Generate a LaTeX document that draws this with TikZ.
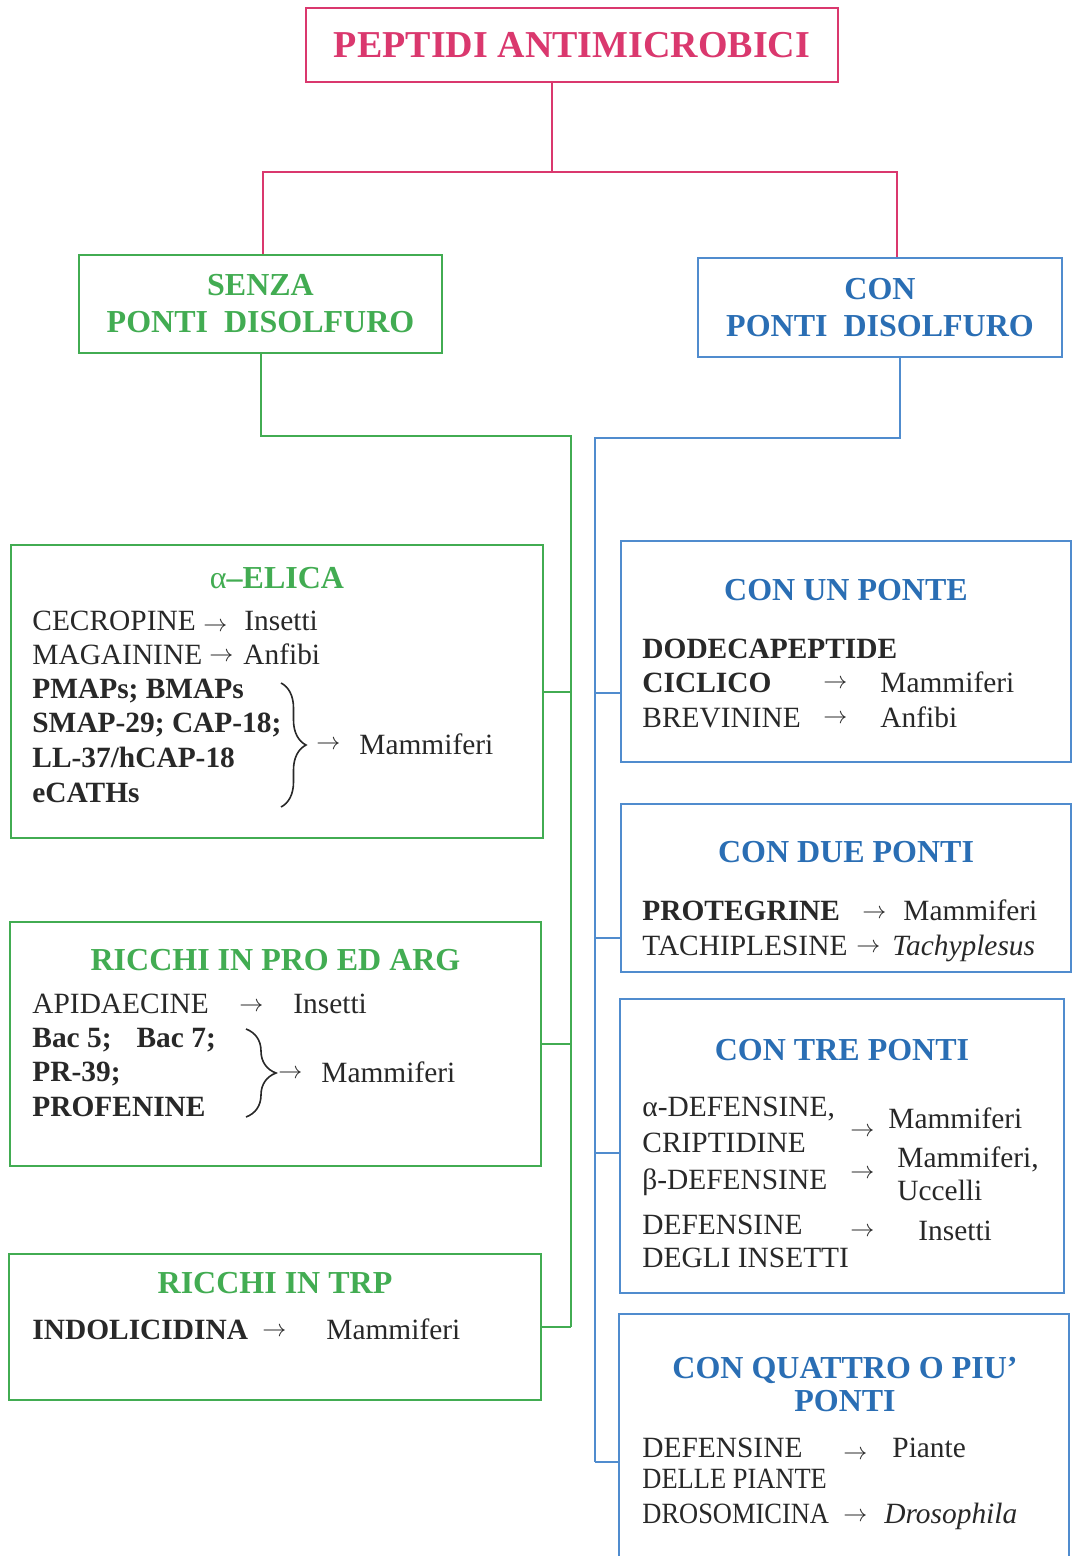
\documentclass[tikz,border=0pt]{standalone}
\usepackage{fontspec}
\setmainfont{Liberation Serif}
\usepackage{tikz}
\usetikzlibrary{calc,positioning,decorations.pathreplacing}
\definecolor{pkred}{RGB}{218,56,110}
\definecolor{grn}{RGB}{66,172,82}
\definecolor{blu}{RGB}{42,110,180}
\definecolor{bluline}{RGB}{80,140,206}
\definecolor{ink}{RGB}{40,40,40}
\newcommand\arr{{\fontsize{12.5}{14}\selectfont$\rightarrow$}}
\tikzset{
    mainbox/.style={
    rectangle,draw=pkred,line width=1.2pt,text=pkred,font=\fontsize{19}{22}\selectfont\bfseries
    },
    gcomponent/.style={
    rectangle,draw=grn,line width=1.1pt
    },
    bcomponent/.style={
    rectangle,draw=bluline,line width=1.1pt
    },
    ghead/.style={
    text=grn,align=center,font=\fontsize{16}{18.5}\selectfont\bfseries
    },
    bhead/.style={
    text=blu,align=center,font=\fontsize{16}{18.5}\selectfont\bfseries
    },
    entry/.style={
    anchor=base west,inner sep=0pt,text=ink,font=\fontsize{14.7}{17.5}\selectfont
    },
    bentry/.style={
    entry,font=\fontsize{14.7}{17.5}\selectfont\bfseries
    },
    ientry/.style={
    entry,font=\fontsize{14.7}{17.5}\selectfont\itshape
    },
    pline/.style={
    draw=pkred,line width=1pt
    },
    gline/.style={
    draw=grn,line width=1pt
    },
    bline/.style={
    draw=bluline,line width=1pt
    },
    cbrace/.style={
    decorate,decoration={brace,amplitude=#1},draw=ink,line width=0.8pt
    },
}

\begin{document}
\begin{tikzpicture}[x=0.5pt,y=-0.5pt]
  \useasboundingbox (0,0) rectangle (1073,1556);

  % top level
  \node[mainbox,minimum width=266pt,minimum height=37pt] (title) at (572,45) {PEPTIDI ANTIMICROBICI};
  \node[gcomponent,ghead,minimum width=181.5pt,minimum height=49pt] (senza) at (260.5,304) {SENZA\\PONTI\ \ DISOLFURO};
  \node[bcomponent,bhead,minimum width=182pt,minimum height=49.5pt] (con) at (880,307.5) {CON\\PONTI\ \ DISOLFURO};

  % boxes
  \node[gcomponent,minimum width=266pt,minimum height=146.5pt] (alpha) at (277,691.5) {};
  \node[gcomponent,minimum width=265.5pt,minimum height=122pt] (pro) at (275.5,1044) {};
  \node[gcomponent,minimum width=266pt,minimum height=73pt] (trp) at (275,1327) {};
  \node[bcomponent,minimum width=225pt,minimum height=110.5pt] (un) at (846,651.5) {};
  \node[bcomponent,minimum width=225pt,minimum height=84pt] (due) at (846,888) {};
  \node[bcomponent,minimum width=222pt,minimum height=147pt] (tre) at (842,1146) {};
  \node[bcomponent,minimum width=225pt,minimum height=124pt] (q4) at (844,1438) {};

  % connectors
  \coordinate (psplit) at (552,172);
  \coordinate (sn) at ($(senza.north)+(2.5,0)$);
  \coordinate (cn) at ($(con.north)+(17,0)$);
  \draw[pline] (title.south -| psplit) -- (psplit);
  \draw[pline] (sn) |- (psplit) -| (cn);

  \coordinate (gtop) at (571,436);
  \draw[gline] (senza.south) |- (gtop) -- (gtop |- trp.east);
  \foreach \n in {alpha,pro,trp}
    \draw[gline] (\n.east) -- (\n.east -| gtop);

  \coordinate (btop) at (595,438);
  \coordinate (cs) at ($(con.south)+(20,0)$);
  \coordinate (unb) at ($(un.west)+(0,41.5)$);
  \coordinate (dueb) at ($(due.west)+(0,50)$);
  \coordinate (treb) at ($(tre.west)+(0,7)$);
  \coordinate (q4b) at ($(q4.west)+(0,24)$);
  \draw[bline] (cs) |- (btop) -- (btop |- q4b);
  \foreach \b in {unb,dueb,treb,q4b}
    \draw[bline] (\b) -- (\b -| btop);

  % alpha-elica
  \node[ghead] (alphat) at (277,578) {{\mdseries α}–ELICA};
  \node[entry] (cecro) at (32,630) {CECROPINE};
  \node[entry] (cecroarr) at (203,631) {\arr};
  \node[entry] (cecrom) at (244,630) {Insetti};
  \node[entry] (magai) at (32,664) {MAGAININE};
  \node[entry] (magaiarr) at (209,661) {\arr};
  \node[entry] (magaim) at (243,664) {Anfibi};
  \node[bentry] (pmaps) at (32,698) {PMAPs; BMAPs};
  \node[bentry] (smap) at (32,732) {SMAP-29; CAP-18;};
  \node[bentry] (ll) at (32,767) {LL-37/hCAP-18};
  \node[bentry] (ecath) at (32,802) {eCATHs};
  \draw[cbrace=12.5pt] (281,683) -- (281,807);
  \node[entry] (alphaarr) at (316,749) {\arr};
  \node[entry] (alpham) at (359,754) {Mammiferi};

  % pro ed arg
  \node[ghead] (prot) at (275.5,960) {RICCHI IN PRO ED ARG};
  \node[entry] (apid) at (32,1013) {APIDAECINE};
  \node[entry] (apidarr) at (239,1011) {\arr};
  \node[entry] (apidm) at (293,1013) {Insetti};
  \node[bentry] (bac) at (32,1047) {Bac 5;\hspace{12.5pt}Bac 7;};
  \node[bentry] (pr39) at (32,1081) {PR-39;};
  \node[bentry] (profe) at (32,1116) {PROFENINE};
  \draw[cbrace=15pt] (246,1029) -- (246,1117);
  \node[entry] (proarr) at (278,1078) {\arr};
  \node[entry] (prom) at (321,1082) {Mammiferi};

  % trp
  \node[ghead] (trpt) at (275,1283) {RICCHI IN TRP};
  \node[bentry] (indol) at (32,1339) {INDOLICIDINA};
  \node[entry] (indarr) at (262,1336) {\arr};
  \node[entry] (indm) at (326,1339) {Mammiferi};

  % un ponte
  \node[bhead] (unt) at (846,590) {CON UN PONTE};
  \node[bentry] (dodec) at (642,658) {DODECAPEPTIDE};
  \node[bentry] (cicl) at (642,692) {CICLICO};
  \node[entry] (ciclarr) at (823,688) {\arr};
  \node[entry] (ciclm) at (880,692) {Mammiferi};
  \node[entry] (brev) at (642,727) {BREVININE};
  \node[entry] (brevarr) at (823,723) {\arr};
  \node[entry] (brevm) at (880,727) {Anfibi};

  % due ponti
  \node[bhead] (duet) at (846,852) {CON DUE PONTI};
  \node[bentry] (proteg) at (642,920) {PROTEGRINE};
  \node[entry] (protarr) at (862,918) {\arr};
  \node[entry] (protm) at (903,920) {Mammiferi};
  \node[entry] (tach) at (642,955) {TACHIPLESINE};
  \node[entry] (tacharr) at (856,952) {\arr};
  \node[ientry] (tachm) at (892,955) {Tachyplesus};

  % tre ponti
  \node[bhead] (tret) at (842,1050) {CON TRE PONTI};
  \node[entry] (adef) at (642,1116) {α-DEFENSINE,};
  \node[entry] (cript) at (642,1152) {CRIPTIDINE};
  \node[entry] (adefarr) at (850,1136) {\arr};
  \node[entry] (adefm) at (888,1128) {Mammiferi};
  \node[entry] (bdef) at (642,1189) {β-DEFENSINE};
  \node[entry] (bdefarr) at (850,1178) {\arr};
  \node[entry] (bdefm) at (897,1167) {Mammiferi,};
  \node[entry] (bdefu) at (897,1200) {Uccelli};
  \node[entry] (idef) at (642,1234) {DEFENSINE};
  \node[entry] (idefarr) at (850,1236) {\arr};
  \node[entry] (idefm) at (918,1240) {Insetti};
  \node[entry] (idegli) at (642,1267) {DEGLI INSETTI};

  % quattro o piu
  \node[bhead,font=\fontsize{16}{16.5}\selectfont\bfseries] (q4t) at (845,1384) {CON QUATTRO O PIU’\\PONTI};
  \node[entry] (pdef) at (642,1457) {DEFENSINE};
  \node[entry] (pdefarr) at (843,1459) {\arr};
  \node[entry] (pdefm) at (892,1457) {Piante};
  \node[entry] (pdelle) at (642,1488) {\scalebox{0.9}[1]{DELLE PIANTE}};
  \node[entry] (dros) at (642,1523) {\scalebox{0.9}[1]{DROSOMICINA}};
  \node[entry] (drosarr) at (843,1521) {\arr};
  \node[ientry] (drosm) at (884,1523) {Drosophila};
\end{tikzpicture}
\end{document}
